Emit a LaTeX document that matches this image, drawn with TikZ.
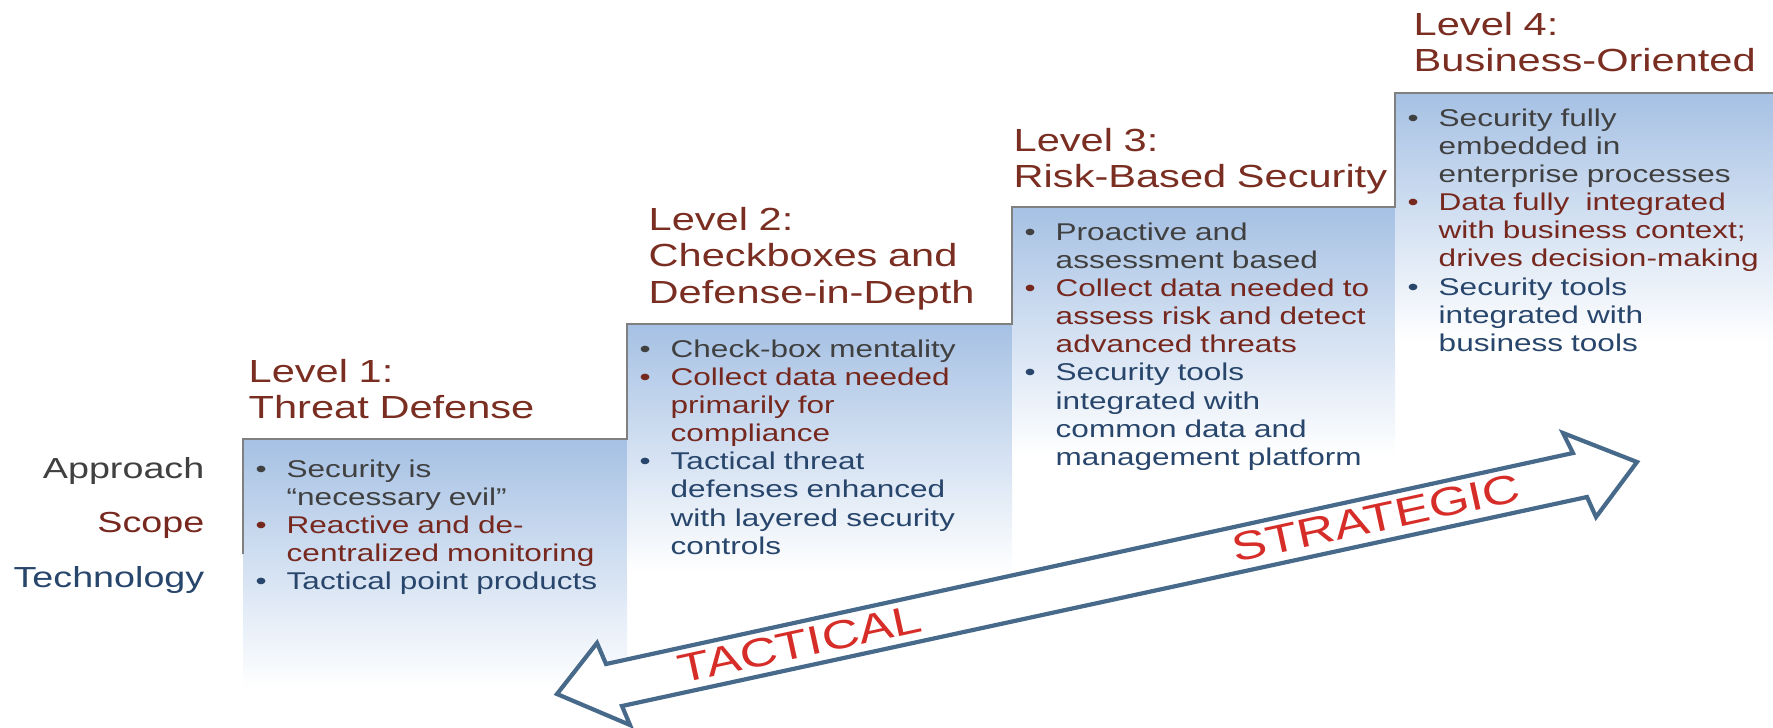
\documentclass[tikz,border=0pt]{standalone}
\usepackage{fontspec}
\setmainfont{Liberation Sans}[FakeStretch=1.3]

\definecolor{stepblue}{RGB}{166,193,228}
\definecolor{bordergray}{RGB}{128,128,128}
\definecolor{titlered}{RGB}{122,46,34}
\definecolor{txtgray}{RGB}{64,64,64}
\definecolor{txtred}{RGB}{118,40,30}
\definecolor{txtblue}{RGB}{40,70,108}
\definecolor{arrowblue}{RGB}{72,106,138}
\definecolor{arrowred}{RGB}{214,45,40}

\newcommand{\dotitem}[1]{\leavevmode\color{#1}\llap{\textbullet\hspace{2mm}}}

\begin{document}
\begin{tikzpicture}[
	steptitle/.style={text=titlered, font=\fontsize{9.1}{10.44}\selectfont, align=left, text width=50mm, inner sep=0pt, anchor=base west},
	steplist/.style={font=\fontsize{6.9}{8.02}\selectfont, align=left, text width=40mm, inner sep=0pt, anchor=base west},
	sidelabel/.style={font=\fontsize{8.25}{9.9}\selectfont, inner sep=0pt, anchor=base east},
	arrowtext/.style={text=arrowred, font=\fontsize{11.4}{13.7}\selectfont, inner sep=0pt, rotate=12.3}]

%\draw[help lines] (0mm,-72.7mm) grid (177.3mm,0mm);
	\useasboundingbox (0mm,0mm) rectangle (177.3mm,-72.7mm);%画布

	\foreach \a/\b/\t in {24.3/62.7/43.9, 62.7/101.2/32.4, 101.2/139.5/20.7, 139.5/177.3/9.3}
	\fill [top color=stepblue, bottom color=white] ({\a mm},{-\t mm}) rectangle ({\b mm},{-\t mm-25mm});%台阶渐变
	\draw [bordergray, line width=0.7pt] (24.3mm,-55.4mm) -- (24.3mm,-43.9mm) -- (62.7mm,-43.9mm) -- (62.7mm,-32.4mm) -- (101.2mm,-32.4mm) -- (101.2mm,-20.7mm) -- (139.5mm,-20.7mm) -- (139.5mm,-9.3mm) -- (177.3mm,-9.3mm);%台阶边线

	\node (title1) [steptitle] at (24.8mm,-38.2mm) {Level 1:\\Threat Defense};
	\node (title2) [steptitle] at (64.8mm,-23.0mm) {Level 2:\\Checkboxes and\\Defense-in-Depth};
	\node (title3) [steptitle] at (101.3mm,-15.1mm) {Level 3:\\Risk-Based Security};
	\node (title4) [steptitle] at (141.3mm,-3.5mm) {Level 4:\\Business-Oriented};

	\node (list1) [steplist] at (28.6mm,-47.7mm) {{\dotitem{txtgray}Security is\\``necessary evil''}\\{\dotitem{txtred}Reactive and de-\\centralized monitoring}\\{\dotitem{txtblue}Tactical point products}};
	\node (list2) [steplist] at (67.0mm,-35.7mm) {{\dotitem{txtgray}Check-box mentality}\\{\dotitem{txtred}Collect data needed\\primarily for\\compliance}\\{\dotitem{txtblue}Tactical threat\\defenses enhanced\\with layered security\\controls}};
	\node (list3) [steplist] at (105.5mm,-24.0mm) {{\dotitem{txtgray}Proactive and\\assessment based}\\{\dotitem{txtred}Collect data needed to\\assess risk and detect\\advanced threats}\\{\dotitem{txtblue}Security tools\\integrated with\\common data and\\management platform}};
	\node (list4) [steplist] at (143.8mm,-12.6mm) {{\dotitem{txtgray}Security fully\\embedded in\\enterprise processes}\\{\dotitem{txtred}Data fully\ \ integrated\\with business context;\\drives decision-making}\\{\dotitem{txtblue}Security tools\\integrated with\\business tools}};

	\node (approach) [sidelabel, text=txtgray] at (20.5mm,-47.8mm) {Approach};
	\node (scope) [sidelabel, text=txtred] at (20.5mm,-53.2mm) {Scope};
	\node (technology) [sidelabel, text=txtblue] at (20.5mm,-58.7mm) {Technology};

	\draw [arrowblue, line width=0.42mm, fill=white] (55.7mm,-69.4mm) -- (59.7mm,-64.3mm) -- (60.6mm,-66.4mm) -- (157.3mm,-45.3mm) -- (156.3mm,-43.3mm) -- (163.7mm,-46.2mm) -- (159.6mm,-51.7mm) -- (158.7mm,-49.7mm) -- (62.2mm,-70.6mm) -- (63.0mm,-72.5mm) -- cycle;%双向箭头
	\node (tactical) [arrowtext] at (80.0mm,-64.4mm) {TACTICAL};
	\node (strategic) [arrowtext] at (137.6mm,-51.8mm) {STRATEGIC};
\end{tikzpicture}
\end{document}
